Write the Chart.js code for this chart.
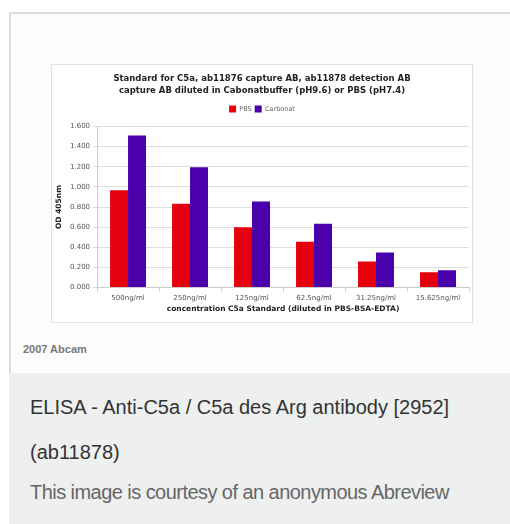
<!DOCTYPE html>
<html>
<head>
<meta charset="utf-8">
<script src="https://cdn.jsdelivr.net/npm/chart.js@4.4.1/dist/chart.umd.min.js"></script>
<style>
    body {
        margin: 0;
        width: 510px;
        height: 524px;
        overflow: hidden;
        background: #ffffff;
        font-family: "Liberation Sans", Arial, sans-serif;
    }
    .card {
        position: absolute;
        left: 9px;
        top: 12px;
        width: 510px;
        height: 359px;
        border-left: 2px solid #dddddd;
        border-top: 2px solid #dddddd;
        background: #fcfcfc;
    }
    .chart-box {
        position: absolute;
        left: 51px;
        top: 64px;
        width: 420px;
        height: 257px;
        border: 1px solid #e2e2e2;
        background: #ffffff;
    }
    .credit {
        position: absolute;
        left: 23px;
        top: 343px;
        font: bold 11px "Liberation Sans", Arial, sans-serif;
        color: #777777;
    }
    .caption {
        position: absolute;
        left: 9px;
        top: 373px;
        width: 510px;
        height: 151px;
        background: #eef0f0;
    }
    .caption p {
        position: absolute;
        left: 21px;
        margin: 0;
        font-size: 20px;
        white-space: nowrap;
    }
</style>
</head>
<body>

<div class="card"></div>
<div class="chart-box"><canvas id="myChart" width="420" height="257"></canvas></div>
<div class="credit">2007 Abcam</div>
<div class="caption">
    <p style="top: 23px; color: #333;">ELISA - Anti-C5a / C5a des Arg antibody [2952]</p>
    <p style="top: 68px; color: #333;">(ab11878)</p>
    <p style="top: 108px; color: #666; letter-spacing: -0.55px;">This image is courtesy of an anonymous Abreview</p>
</div>

<script>
// Chart data
const concentrations = ['500ng/ml', '250ng/ml', '125ng/ml', '62.5ng/ml', '31.25ng/ml', '15.625ng/ml'];
const pbsValues = [0.967, 0.832, 0.600, 0.455, 0.258, 0.152];
const carbonatValues = [1.511, 1.196, 0.855, 0.633, 0.348, 0.172];
const yTicks = [0, 0.2, 0.4, 0.6, 0.8, 1.0, 1.2, 1.4, 1.6];

const titleLines = [
    'Standard for C5a, ab11876 capture AB, ab11878 detection AB',
    'capture AB diluted in Cabonatbuffer (pH9.6) or PBS (pH7.4)'
];

// extra room under the legend
const legendSpacer = {
    id: 'legendSpacer',
    beforeInit(chart) {
        const fit = chart.legend.fit;
        chart.legend.fit = function () {
            fit.bind(chart.legend)();
            this.height += 4;
        };
    }
};

document.addEventListener('DOMContentLoaded', function () {
    initializeChart();
});

// Chart Initialization
function initializeChart() {
    const ctx = document.getElementById('myChart').getContext('2d');
    new Chart(ctx, {
        type: 'bar',
        data: {
            labels: concentrations,
            datasets: [{
                label: 'PBS',
                data: pbsValues,
                backgroundColor: '#e6000e',
                categoryPercentage: 0.58,
                barPercentage: 1.0
            }, {
                label: 'Carbonat',
                data: carbonatValues,
                backgroundColor: '#4a00aa',
                categoryPercentage: 0.58,
                barPercentage: 1.0
            }]
        },
        plugins: [legendSpacer],
        options: {
            responsive: false,
            animation: false,
            layout: {
                padding: { left: 3, right: 3, bottom: 8 }
            },
            plugins: {
                title: {
                    display: true,
                    text: titleLines,
                    color: '#222222',
                    font: { family: 'DejaVu Sans', size: 8.5, weight: 'bold', lineHeight: 1.5 },
                    padding: { top: 7, bottom: 5 }
                },
                legend: {
                    position: 'top',
                    labels: {
                        boxWidth: 7,
                        boxHeight: 7,
                        padding: 3,
                        color: '#666666',
                        font: { family: 'DejaVu Sans', size: 6.5 }
                    }
                },
                tooltip: { enabled: false }
            },
            scales: {
                x: {
                    grid: {
                        display: true,
                        drawOnChartArea: false,
                        tickLength: 4,
                        color: '#cccccc'
                    },
                    border: { color: '#cccccc' },
                    ticks: {
                        color: '#555555',
                        padding: 2,
                        maxRotation: 0,
                        font: { family: 'DejaVu Sans', size: 7 }
                    },
                    title: {
                        display: true,
                        text: 'concentration C5a Standard (diluted in PBS-BSA-EDTA)',
                        color: '#222222',
                        padding: { top: 1, bottom: 0 },
                        font: { family: 'DejaVu Sans', size: 7.5, weight: 'bold' }
                    }
                },
                y: {
                    min: 0,
                    max: 1.6,
                    afterBuildTicks: function (axis) {
                        axis.ticks = yTicks.map(v => ({ value: v }));
                    },
                    grid: {
                        color: '#dddddd',
                        tickLength: 4
                    },
                    border: { color: '#cccccc' },
                    ticks: {
                        color: '#555555',
                        padding: 3,
                        font: { family: 'DejaVu Sans', size: 7 },
                        callback: function (value) {
                            return Number(value).toFixed(3);
                        }
                    },
                    title: {
                        display: true,
                        text: 'OD 405nm',
                        color: '#222222',
                        padding: { top: 0, bottom: 3 },
                        font: { family: 'DejaVu Sans', size: 7.5, weight: 'bold' }
                    }
                }
            }
        }
    });
}
</script>
</body>
</html>
